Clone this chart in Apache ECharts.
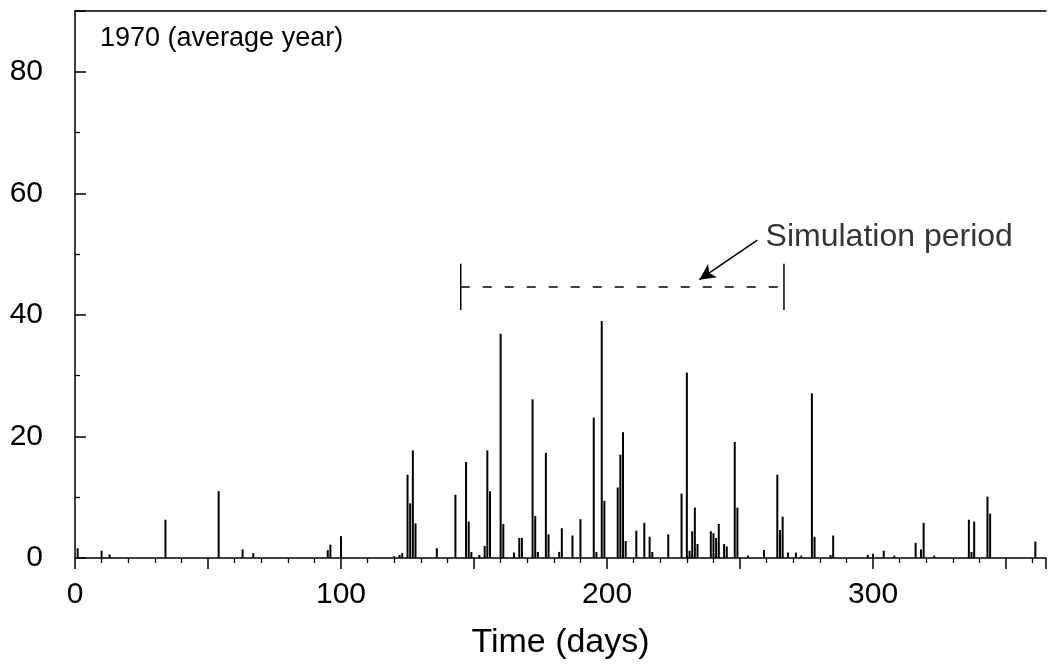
<!DOCTYPE html>
<html><head><meta charset="utf-8">
<script src="https://cdn.jsdelivr.net/npm/echarts@6/dist/echarts.min.js"></script>
<style>html,body{margin:0;padding:0;background:#fff}#c{width:1049px;height:665px}</style>
</head><body><div id="c"></div>
<script>
// Daily rainfall, 1970 (average year)
const days = [1, 10, 13, 34, 54, 63, 67, 95, 96, 100,
  120, 122, 123, 125, 126, 127, 128, 136, 143, 147,
  148, 149, 152, 154, 155, 156, 160, 161, 165, 167,
  168, 172, 173, 174, 177, 178, 182, 183, 187, 190,
  195, 196, 198, 199, 204, 205, 206, 207, 211, 214,
  216, 217, 223, 228, 230, 231, 232, 233, 234, 239,
  240, 241, 242, 244, 245, 248, 249, 253, 259, 264,
  265, 266, 268, 271, 273, 277, 278, 284, 285, 298,
  300, 304, 308, 316, 318, 319, 323, 336, 337, 338,
  343, 344, 361];
const rain = [1.6, 1.2, 0.6, 6.3, 11, 1.4, 0.8, 1.3, 2.2, 3.6,
  0.3, 0.5, 0.8, 13.7, 9, 17.7, 5.7, 1.6, 10.4, 15.8,
  6, 1, 0.5, 2, 17.7, 11, 36.9, 5.6, 0.9, 3.3,
  3.3, 26.1, 6.9, 1, 17.3, 3.9, 1, 4.9, 3.7, 6.4,
  23.1, 1, 39, 9.4, 11.6, 17, 20.7, 2.8, 4.5, 5.8,
  3.5, 1, 3.9, 10.6, 30.5, 1.2, 4.4, 8.3, 2.3, 4.4,
  4.1, 3.3, 5.6, 2.3, 1.9, 19.1, 8.3, 0.4, 1.3, 13.7,
  4.6, 6.8, 0.9, 0.9, 0.4, 27.1, 3.5, 0.5, 3.7, 0.5,
  0.7, 1.2, 0.4, 2.5, 1.4, 5.8, 0.4, 6.3, 1, 6,
  10.1, 7.3, 2.7];
const xTickLabels = [0, 100, 200, 300];
const yTickLabels = [0, 20, 40, 60, 80];
// Simulation period annotation (data units)
const simPeriod = [145, 266.5];
const simLevel = 44.6;
const simCap = 3.8;
const arrowFrom = [256.5, 52.3];
const arrowTo = [234.7, 45.8];
const simLabelAt = [259.6, 52.8];

const FONT = '"Liberation Sans", Arial, Helvetica, sans-serif';
const chart = echarts.init(document.getElementById('c'));
const lineBase = {type: 'line', symbol: 'none', silent: true, z: 5, xAxisIndex: 0};
chart.setOption({
  animation: false,
  backgroundColor: '#fff',
  title: {text: '1970 (average year)', left: 100, top: 25, padding: 0,
    textStyle: {fontFamily: FONT, fontSize: 27, fontWeight: 'normal', color: '#000'}},
  grid: {left: 75, right: 0, top: 11, bottom: 106},
  xAxis: [{
    type: 'value', min: 0, max: 365, interval: 50,
    name: 'Time (days)', nameLocation: 'middle', nameGap: 68,
    nameTextStyle: {fontFamily: FONT, fontSize: 34, color: '#000'},
    axisLine: {show: true, onZero: false, lineStyle: {color: '#000', width: 1.5}},
    axisTick: {show: true, length: 11, lineStyle: {color: '#000', width: 1.5}},
    minorTick: {show: true, splitNumber: 5, length: 5, lineStyle: {color: '#000', width: 1.3}},
    axisLabel: {formatter: v => xTickLabels.includes(v) ? String(v) : '', margin: 22,
      fontFamily: FONT, fontSize: 30, color: '#000'},
    splitLine: {show: false}
  }, {
    type: 'value', position: 'top', min: 0, max: 365,
    axisLine: {show: true, onZero: false, lineStyle: {color: '#000', width: 1.5}},
    axisTick: {show: false}, axisLabel: {show: false}, splitLine: {show: false}
  }],
  yAxis: {
    type: 'value', min: 0, max: 90, interval: 20,
    axisLine: {show: true, onZero: false, lineStyle: {color: '#000', width: 1.5}},
    axisTick: {show: true, inside: true, length: 11, lineStyle: {color: '#000', width: 1.5}},
    minorTick: {show: true, splitNumber: 2, length: 5, lineStyle: {color: '#000', width: 1.3}},
    axisLabel: {formatter: v => yTickLabels.includes(v) ? String(v) : '', margin: 32,
      fontFamily: FONT, fontSize: 30, color: '#000'},
    splitLine: {show: false}
  },
  series: [{
    type: 'bar', barWidth: 2, silent: true,
    itemStyle: {color: '#000'},
    data: days.map((d, i) => [d, rain[i]]),
    markLine: {
      silent: true, symbol: ['none', 'arrow'], symbolSize: [12, 16],
      lineStyle: {color: '#000', type: 'solid', width: 1.5},
      label: {show: false},
      data: [[{coord: arrowFrom}, {coord: arrowTo}]]
    }
  },
  Object.assign({}, lineBase, {data: [[simPeriod[0], simLevel], [simPeriod[1], simLevel]],
    lineStyle: {color: '#000', width: 1.6, type: [9, 13]}}),
  Object.assign({}, lineBase, {data: [[simPeriod[0], simLevel - simCap], [simPeriod[0], simLevel + simCap]],
    lineStyle: {color: '#000', width: 1.5}}),
  Object.assign({}, lineBase, {data: [[simPeriod[1], simLevel - simCap], [simPeriod[1], simLevel + simCap]],
    lineStyle: {color: '#000', width: 1.5}}),
  {
    type: 'scatter', symbolSize: 0, silent: true,
    data: [simLabelAt],
    label: {show: true, position: 'right', distance: 0, formatter: 'Simulation period',
      fontFamily: FONT, fontSize: 32, color: '#000'}
  }]
});
</script></body></html>
